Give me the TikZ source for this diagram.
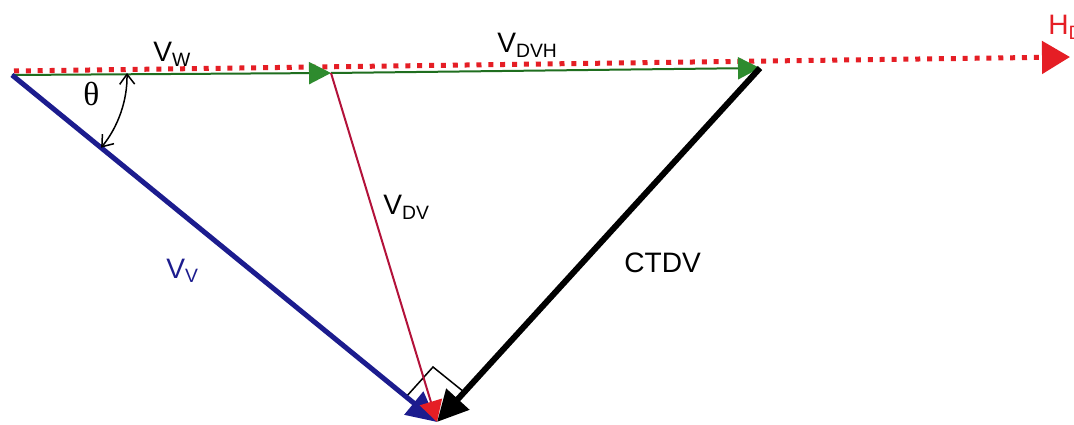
\documentclass[tikz,border=0pt]{standalone}
\usepackage{fontspec}
\setmainfont{Liberation Sans}
\newfontfamily\thetafont{Liberation Serif}
\usetikzlibrary{arrows.meta}
\definecolor{vblue}{HTML}{1C1C8E}
\definecolor{hred}{HTML}{E51E25}
\definecolor{dvred}{HTML}{B3123A}
\definecolor{wgreen}{HTML}{1F6E1F}
\definecolor{wgreenhead}{HTML}{2E8B2E}
\newcommand\vsub[2]{#1\raisebox{-2.8pt}{\fontsize{11}{13}\selectfont #2}}
\tikzset{
  lbl/.style={anchor=base west, inner sep=0pt, font=\fontsize{16}{19}\selectfont},
  hline/.style={hred, line width=0.1cm, dash pattern=on 2.85pt off 3.9pt,
    -{Triangle[length=0.56cm,width=0.64cm,fill=hred]}},
  wline/.style={wgreen, line width=0.04cm,
    -{Triangle[length=0.44cm,width=0.44cm,color=wgreenhead]}},
  vvline/.style={vblue, line width=0.1cm, -{Triangle[length=0.6cm,width=0.58cm]}},
  dvline/.style={dvred, line width=0.04cm, -{Triangle[length=0.42cm,width=0.46cm,color=hred]}},
  ctline/.style={black, line width=0.12cm, -{Triangle[length=0.62cm,width=0.6cm]}},
  anglearc/.style={black, line width=0.03cm, {Straight Barb[length=0.2cm,width=0.3cm]}-{Straight Barb[length=0.2cm,width=0.3cm]}},
  rmark/.style={black, line width=0.03cm}
}
\begin{document}
\begin{tikzpicture}[x=0.02cm,y=-0.02cm]
\clip (0,0) rectangle (1074,425);
\fill[white] (0,0) rectangle (1074,425);
% points
\coordinate (O) at (12,75);
\coordinate (W) at (331,73);
\coordinate (D) at (760,68);
\coordinate (P) at (437,422);
\coordinate (Hs) at (14,71);
\coordinate (He) at (1070,57);
% horizontal direction
\draw[hline] (Hs) -- (He);
% green components
\draw[wline] (O) -- (W);
\draw[wline] (W) -- (D);
% right angle mark
\coordinate (RA) at (406,397);
\coordinate (RB) at (433,367);
\coordinate (RC) at (464,392);
\draw[rmark] (RA) -- (RB) -- (RC);
% main vectors
\draw[vvline] (O) -- (P);
\draw[dvline] (W) -- (P);
\draw[ctline] (D) -- (P);
% angle theta
\draw[anglearc] (O) ++(-1:115) arc[start angle=-1, end angle=39.2, radius=115];
% labels
\node[lbl] (tw) at (153,62) {\vsub{V}{W}};
\node[lbl] (tdvh) at (497,53) {\vsub{V}{DVH}};
\node[lbl, text=hred] (th) at (1048,35) {\vsub{H}{D}};
\node[lbl] (tdv) at (383,215) {\vsub{V}{DV}};
\node[lbl, text=vblue] (tv) at (166,278) {\vsub{V}{V}};
\node[lbl] (tct) at (624,273) {CTDV};
\node[lbl, font=\fontsize{19}{22}\selectfont\thetafont] (tth) at (83,106) {θ};
\end{tikzpicture}
\end{document}
